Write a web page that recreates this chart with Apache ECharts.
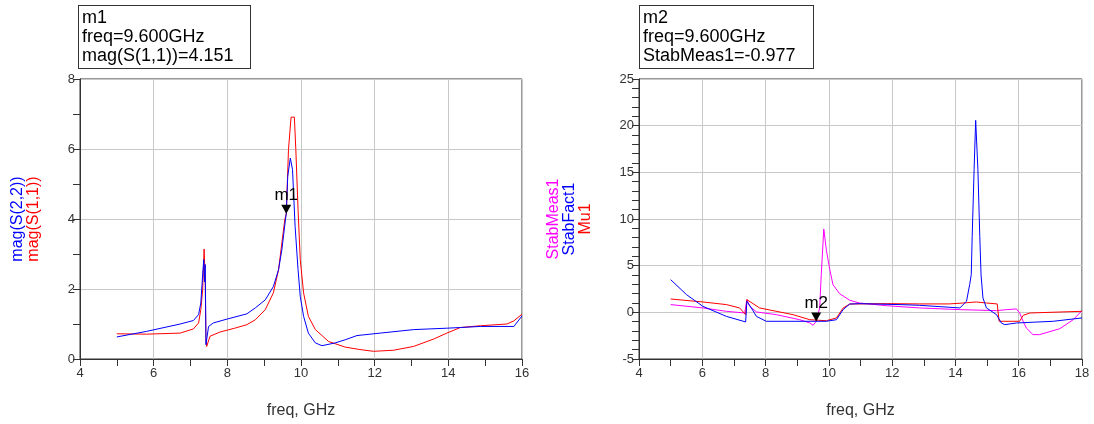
<!DOCTYPE html>
<html><head><meta charset="utf-8">
<script src="https://cdn.jsdelivr.net/npm/echarts@6/dist/echarts.min.js"></script>
<style>html,body{margin:0;padding:0;background:#fff}#c{width:1094px;height:424px}</style>
</head><body><div id="c"></div>
<script>
// ---- Left chart data ----
const s11Freq = [5,5.81,6.72,7.08,7.22,7.28,7.33,7.37,7.40,7.42,7.44,7.53,7.8,8.2,8.53,8.76,9.03,9.25,9.39,9.48,9.56,9.6,9.62,9.66,9.73,9.82,9.86,9.92,9.98,10.07,10.2,10.39,10.75,11.2,11.6,11.97,12.51,13.06,13.6,13.96,14.33,14.87,15.59,15.78,16];
const s11Mag  = [0.72,0.71,0.74,0.86,1.03,1.41,1.98,3.14,2.2,0.5,0.36,0.65,0.77,0.88,0.98,1.12,1.41,1.89,2.55,3.31,3.98,4.151,4.74,5.98,6.91,6.91,5.98,4.27,2.84,1.89,1.22,0.84,0.50,0.34,0.27,0.22,0.25,0.36,0.57,0.74,0.90,0.95,1.0,1.09,1.28];
const s22Freq = [5,5.81,6.72,7.08,7.22,7.28,7.33,7.36,7.38,7.40,7.42,7.49,7.62,7.99,8.53,8.76,9.03,9.25,9.39,9.48,9.58,9.6,9.64,9.71,9.77,9.84,9.92,9.98,10.07,10.2,10.39,10.57,10.93,11.2,11.52,12.15,13.06,13.96,14.33,14.87,15.78,16];
const s22Mag  = [0.63,0.79,1.0,1.1,1.27,1.6,2.4,2.84,2.2,2.7,0.41,0.93,1.03,1.14,1.29,1.46,1.69,2.07,2.55,3.12,4.0,4.151,5.22,5.74,5.41,3.79,2.55,1.79,1.22,0.74,0.46,0.38,0.46,0.55,0.67,0.74,0.84,0.88,0.9,0.93,0.93,1.23];
const leftXTicks = [4,6,8,10,12,14,16];
const leftYTicks = [0,2,4,6,8];
const m1Freq = 9.6, m1Value = 4.151;

// ---- Right chart data ----
const smFreq = [5,6.02,6.76,7.34,7.41,7.5,7.71,8.34,9.08,9.4,9.5,9.6,9.71,9.76,9.84,9.92,10.03,10.13,10.34,10.66,10.97,11.82,12.87,14.14,15.3,15.61,15.93,16.03,16.14,16.24,16.45,16.66,17.3,17.72,18];
const smVal  = [0.83,0.47,0.11,-0.07,1.36,0.64,0.04,-0.25,-0.79,-1.14,-1.39,-0.977,0.47,4.04,8.93,6.71,4.57,2.96,2.0,1.29,1.0,0.71,0.47,0.29,0.18,0.29,0.36,-0.07,-0.96,-1.68,-2.39,-2.39,-1.75,-0.79,0.18];
const sfFreq = [5,5.5,6.02,6.76,7.37,7.41,7.55,7.71,8.02,9.92,10.24,10.45,10.66,10.97,12.34,12.87,14.14,14.35,14.45,14.5,14.53,14.59,14.64,14.71,14.77,14.81,14.87,14.98,15.3,15.45,15.56,15.93,17.09,18];
const sfVal  = [3.5,1.9,0.64,-0.43,-1.03,1.18,0.47,-0.43,-0.96,-0.96,-0.79,0.29,0.89,0.93,0.82,0.75,0.47,1.18,2.97,4.04,8.14,15.3,20.57,15.3,8.14,4.0,1.54,0.47,-0.25,-1.14,-1.32,-1.14,-0.96,-0.6];
const muFreq = [5,6.02,6.76,7.18,7.37,7.41,7.81,8.87,9.4,9.92,10.24,10.45,10.66,11.82,12.87,13.8,14.24,14.66,14.98,15.32,15.38,16.03,16.14,16.35,18];
const muVal  = [1.43,1.11,0.83,0.47,-0.25,1.36,0.47,-0.25,-0.79,-0.9,-0.6,0.46,0.89,0.93,0.9,0.9,1.0,1.11,1.0,0.9,-0.96,-0.96,-0.32,-0.07,0.11];
const rightXTicks = [4,6,8,10,12,14,16,18];
const rightYTicks = [-5,0,5,10,15,20,25];
const m2Freq = 9.6, m2Value = -0.977;

const pairs = (xs, ys) => xs.map((x, i) => [x, ys[i]]);

const FONT = 'Liberation Sans, Arial, sans-serif';
const axisText = {color:'#333', fontSize:13, fontFamily:FONT};
function xAx(gi, ticks, name){
  return {type:'value', gridIndex:gi, min:ticks[0], max:ticks[ticks.length-1], interval:ticks[1]-ticks[0],
    name:name, nameLocation:'middle', nameGap:44,
    nameTextStyle:{color:'#333', fontSize:16, fontFamily:FONT},
    axisLine:{show:true, onZero:false, lineStyle:{color:'#333', width:1}},
    axisTick:{show:true, length:7, lineStyle:{color:'#333'}},
    minorTick:{show:true, splitNumber:2, length:7, lineStyle:{color:'#333'}},
    axisLabel:Object.assign({margin:8}, axisText),
    splitLine:{show:true, lineStyle:{color:'#c8c8c8', width:1}}};
}
function yAx(gi, ticks, minorSplit, nameRich, nameStr, gap){
  return {type:'value', gridIndex:gi, min:ticks[0], max:ticks[ticks.length-1], interval:ticks[1]-ticks[0],
    name:nameStr, nameLocation:'middle', nameRotate:90, nameGap:gap,
    nameTextStyle:{rich:nameRich, fontFamily:FONT},
    axisLine:{show:true, onZero:false, lineStyle:{color:'#333', width:1}},
    axisTick:{show:true, length:7, lineStyle:{color:'#333'}},
    minorTick:{show:true, splitNumber:minorSplit, length:7, lineStyle:{color:'#333'}},
    axisLabel:Object.assign({margin:5}, axisText),
    splitLine:{show:true, lineStyle:{color:'#c8c8c8', width:1}}};
}
const rt = c => ({color:c, fontSize:16, lineHeight:16, fontFamily:FONT});

function marker(name, f, v){
  return {symbol:'triangle', symbolRotate:180, symbolSize:[10,9], symbolOffset:[0,'-50%'],
    itemStyle:{color:'#000'},
    label:{show:true, position:'top', distance:1, formatter:name, color:'#000', fontSize:17, fontFamily:FONT},
    data:[{coord:[f, v]}], animation:false};
}
const lineS = (c) => ({type:'line', showSymbol:false, symbol:'none', smooth:false, lineStyle:{color:c, width:1}, itemStyle:{color:c}});

const chart = echarts.init(document.getElementById('c'), null, {renderer:'canvas'});
chart.setOption({
  animation:false,
  backgroundColor:'#fff',
  grid:[
    {left:80, top:79, width:442, height:280, show:true, borderColor:'#333', borderWidth:1},
    {left:639, top:79, width:443, height:280, show:true, borderColor:'#333', borderWidth:1}
  ],
  xAxis:[xAx(0, leftXTicks, 'freq, GHz'), xAx(1, rightXTicks, 'freq, GHz')],
  yAxis:[
    yAx(0, leftYTicks, 2, {b:rt('#0000ff'), r:rt('#ff0000')}, '{b|mag(S(2,2))}\n{r|mag(S(1,1))}', 38),
    yAx(1, rightYTicks, 5, {m:rt('#ff00ff'), b:rt('#0000ff'), r:rt('#ff0000')}, '{m|StabMeas1}\n{b|StabFact1}\n{r|Mu1}', 45)
  ],
  series:[
    Object.assign(lineS('#ff0000'), {name:'mag(S(1,1))', xAxisIndex:0, yAxisIndex:0, data:pairs(s11Freq, s11Mag)}),
    Object.assign(lineS('#0000ff'), {name:'mag(S(2,2))', xAxisIndex:0, yAxisIndex:0, data:pairs(s22Freq, s22Mag), markPoint:marker('m1', m1Freq, m1Value)}),
    Object.assign(lineS('#ff00ff'), {name:'StabMeas1', xAxisIndex:1, yAxisIndex:1, data:pairs(smFreq, smVal)}),
    Object.assign(lineS('#ff0000'), {name:'Mu1', xAxisIndex:1, yAxisIndex:1, data:pairs(muFreq, muVal)}),
    Object.assign(lineS('#0000ff'), {name:'StabFact1', xAxisIndex:1, yAxisIndex:1, data:pairs(sfFreq, sfVal), markPoint:marker('m2', m2Freq, m2Value)})
  ],
  graphic:[
    {type:'text', left:78, top:5, z:10, style:{text:'m1\nfreq=' + m1Freq.toFixed(3) + 'GHz\nmag(S(1,1))=' + m1Value.toFixed(3),
      font:'18px ' + FONT, lineHeight:19, fill:'#000', backgroundColor:'#fff', borderColor:'#333', borderWidth:1,
      padding:[3,4,2,3], width:164}},
    {type:'text', left:639, top:5, z:10, style:{text:'m2\nfreq=' + m2Freq.toFixed(3) + 'GHz\nStabMeas1=' + m2Value.toFixed(3),
      font:'18px ' + FONT, lineHeight:19, fill:'#000', backgroundColor:'#fff', borderColor:'#333', borderWidth:1,
      padding:[3,4,2,3], width:166}}
  ]
});
</script></body></html>
